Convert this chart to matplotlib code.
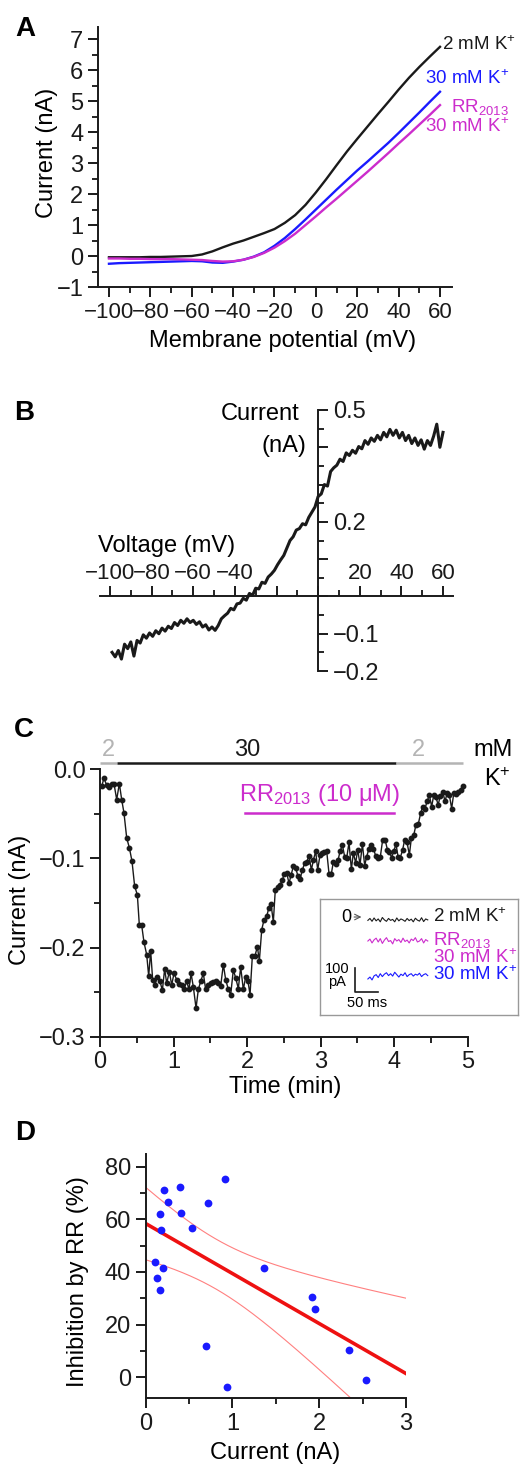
import numpy as np
import matplotlib
matplotlib.use('Agg')
import matplotlib.pyplot as plt
from matplotlib.ticker import MultipleLocator, FixedLocator, FixedFormatter, FuncFormatter

plt.rcParams['font.family'] = ['Liberation Sans', 'DejaVu Sans']
plt.rcParams['mathtext.fontset'] = 'custom'
plt.rcParams['mathtext.rm'] = 'Liberation Sans'
plt.rcParams['mathtext.default'] = 'regular'
plt.rcParams['axes.linewidth'] = 1.4
plt.rcParams['axes.unicode_minus'] = True

### DATA
# A: I-V curves (mV, nA)
a_voltage = [-100, -95, -90, -85, -80, -75, -70, -65, -60, -55, -50, -45, -40, -35, -30,
             -25, -20, -15, -10, -5, 0, 5, 10, 15, 20, 25, 30, 35, 40, 45, 50, 55, 60]
a_2mM = [-0.04, -0.04, -0.04, -0.04, -0.03, -0.03, -0.02, -0.01, 0.0, 0.05, 0.15, 0.28, 0.40, 0.50, 0.62,
         0.74, 0.87, 1.07, 1.32, 1.65, 2.05, 2.48, 2.93, 3.37, 3.78, 4.18, 4.58, 4.97, 5.37, 5.75, 6.10, 6.43, 6.75]
a_30mM = [-0.25, -0.23, -0.22, -0.21, -0.20, -0.19, -0.18, -0.17, -0.16, -0.17, -0.21, -0.22, -0.18, -0.12, -0.02,
          0.12, 0.33, 0.58, 0.87, 1.18, 1.50, 1.82, 2.14, 2.45, 2.76, 3.05, 3.35, 3.65, 3.97, 4.30, 4.63, 4.97, 5.30]
a_rr = [-0.08, -0.08, -0.09, -0.09, -0.10, -0.10, -0.10, -0.11, -0.12, -0.13, -0.16, -0.18, -0.17, -0.12, -0.03,
        0.10, 0.27, 0.48, 0.72, 1.00, 1.28, 1.57, 1.85, 2.14, 2.43, 2.72, 3.02, 3.32, 3.63, 3.93, 4.24, 4.55, 4.87]

# B: RR-sensitive current, ramp -99 .. 60 mV
b_current = [-0.150, -0.162, -0.145, -0.168, -0.128, -0.140, -0.122, -0.160, -0.118, -0.125,
             -0.103, -0.112, -0.098, -0.107, -0.092, -0.100, -0.085, -0.093, -0.080, -0.086,
             -0.070, -0.078, -0.064, -0.072, -0.060, -0.070, -0.064, -0.075, -0.068, -0.082,
             -0.076, -0.090, -0.082, -0.091, -0.078, -0.060, -0.052, -0.045, -0.032, -0.036,
             -0.020, -0.018, -0.005, -0.010, 0.008, 0.003, 0.022, 0.020, 0.038, 0.035,
             0.052, 0.060, 0.070, 0.085, 0.098, 0.110, 0.130, 0.150, 0.160, 0.178,
             0.182, 0.195, 0.192, 0.212, 0.226, 0.240, 0.268, 0.275, 0.300, 0.296,
             0.335, 0.345, 0.352, 0.368, 0.362, 0.385, 0.378, 0.392, 0.384, 0.402,
             0.396, 0.418, 0.408, 0.425, 0.416, 0.432, 0.420, 0.440, 0.428, 0.448,
             0.432, 0.446, 0.425, 0.440, 0.418, 0.432, 0.410, 0.425, 0.405, 0.420,
             0.395, 0.418, 0.405, 0.430, 0.462, 0.400, 0.440]
b_voltage = np.linspace(-99, 60, len(b_current))

# C: time course (min, nA)
c_time = [0.023, 0.054, 0.091, 0.122, 0.159, 0.190, 0.227, 0.263, 0.295, 0.326,
          0.363, 0.399, 0.435, 0.471, 0.508, 0.535, 0.567, 0.598, 0.635, 0.662,
          0.689, 0.716, 0.748, 0.780, 0.816, 0.848, 0.879, 0.907, 0.943, 0.975,
          1.006, 1.043, 1.074, 1.111, 1.142, 1.179, 1.210, 1.238, 1.269, 1.306,
          1.337, 1.369, 1.405, 1.437, 1.473, 1.505, 1.541, 1.578, 1.609, 1.641,
          1.677, 1.709, 1.745, 1.777, 1.813, 1.845, 1.881, 1.913, 1.949, 1.981,
          2.013, 2.040, 2.072, 2.108, 2.140, 2.167, 2.199, 2.230, 2.267, 2.294,
          2.325, 2.357, 2.384, 2.416, 2.448, 2.480, 2.507, 2.539, 2.570, 2.597,
          2.629, 2.661, 2.693, 2.720, 2.752, 2.783, 2.811, 2.842, 2.874, 2.901,
          2.933, 2.960, 2.992, 3.019, 3.051, 3.083, 3.114, 3.146, 3.173, 3.205,
          3.237, 3.264, 3.296, 3.327, 3.354, 3.386, 3.418, 3.445, 3.477, 3.504,
          3.536, 3.568, 3.599, 3.626, 3.658, 3.685, 3.717, 3.749, 3.781, 3.812,
          3.844, 3.876, 3.908, 3.935, 3.966, 3.994, 4.025, 4.053, 4.084, 4.116,
          4.143, 4.175, 4.207, 4.234, 4.266, 4.297, 4.329, 4.361, 4.388, 4.420,
          4.447, 4.479, 4.510, 4.538, 4.569, 4.597, 4.628, 4.660, 4.692, 4.719,
          4.751, 4.782, 4.810, 4.841, 4.873, 4.905, 4.932]
c_current = [-0.019, -0.010, -0.018, -0.020, -0.016, -0.016, -0.034, -0.016, -0.034, -0.049,
             -0.077, -0.088, -0.103, -0.131, -0.141, -0.175, -0.175, -0.194, -0.208, -0.232,
             -0.204, -0.236, -0.242, -0.233, -0.238, -0.248, -0.224, -0.240, -0.227, -0.242,
             -0.229, -0.236, -0.241, -0.242, -0.247, -0.238, -0.247, -0.229, -0.244, -0.268,
             -0.247, -0.238, -0.229, -0.247, -0.242, -0.240, -0.239, -0.238, -0.240, -0.243,
             -0.219, -0.236, -0.247, -0.253, -0.225, -0.234, -0.246, -0.222, -0.247, -0.233,
             -0.238, -0.253, -0.209, -0.209, -0.199, -0.215, -0.180, -0.169, -0.165, -0.156,
             -0.151, -0.171, -0.135, -0.132, -0.130, -0.124, -0.117, -0.116, -0.128, -0.119,
             -0.109, -0.111, -0.120, -0.123, -0.113, -0.105, -0.104, -0.097, -0.113, -0.102,
             -0.092, -0.113, -0.096, -0.094, -0.093, -0.092, -0.117, -0.117, -0.104, -0.106,
             -0.102, -0.092, -0.085, -0.098, -0.100, -0.082, -0.112, -0.094, -0.105, -0.090,
             -0.107, -0.084, -0.108, -0.098, -0.089, -0.085, -0.089, -0.097, -0.099, -0.098,
             -0.079, -0.079, -0.090, -0.093, -0.099, -0.092, -0.084, -0.098, -0.099, -0.090,
             -0.079, -0.082, -0.096, -0.077, -0.074, -0.062, -0.061, -0.049, -0.042, -0.044,
             -0.036, -0.029, -0.042, -0.029, -0.031, -0.040, -0.030, -0.025, -0.036, -0.027,
             -0.029, -0.044, -0.027, -0.028, -0.025, -0.023, -0.019]
# solution periods (start, end, label) and RR application
solution_periods = [(0.0, 0.23, '2'), (0.23, 4.03, '30'), (4.03, 4.94, '2')]
rr_period = (1.97, 4.0)

# C inset: example traces (pA), 0-130 ms
inset_black = [-14, -6, -18, -4, -16, -8, -20, -2, -12, -18, -6, -14, -10, -20, -4,
               -16, -8, -12, -18, -6, -15, -9, -20, -5, -13, -17, -3, -19, -8, -12]
inset_magenta = [-100, -92, -108, -95, -88, -104, -90, -110, -96, -86, -102, -98, -112, -90, -100,
                 -94, -106, -88, -102, -96, -108, -92, -98, -86, -104, -100, -90, -108, -94, -100]
inset_blue = [-258, -250, -262, -245, -240, -252, -236, -248, -238, -232, -244, -236, -246, -230, -240,
              -250, -238, -244, -232, -248, -240, -236, -246, -238, -242, -234, -248, -240, -236, -244]
inset_t = np.linspace(0, 130, len(inset_black))

# D: inhibition vs current
d_current = [0.108, 0.134, 0.169, 0.165, 0.180, 0.200, 0.211, 0.261, 0.400, 0.411,
             0.538, 0.718, 0.914, 0.699, 0.934, 1.364, 1.921, 1.952, 2.343, 2.543]
d_inhib = [43.7, 37.8, 33.2, 62.0, 55.9, 41.6, 71.0, 66.7, 72.3, 62.5,
           56.8, 66.2, 75.4, 11.9, -3.7, 41.4, 30.5, 26.1, 10.4, -1.1]

BLACK = '#1a1a1a'
BLUE = '#1a1aff'
MAGENTA = '#cc2ccc'
GRAY = '#b4b4b4'
FS = 17
W, H = 520, 1466

fig = plt.figure(figsize=(W / 100, H / 100), dpi=100)


def px_axes(x0, y0, x1, y1):
    return fig.add_axes([x0 / W, 1 - y1 / H, (x1 - x0) / W, (y1 - y0) / H])


def style(ax):
    ax.tick_params(which='major', direction='out', length=7, width=1.4, labelsize=FS, colors=BLACK)
    ax.tick_params(which='minor', direction='out', length=4, width=1.2)
    for s in ax.spines.values():
        s.set_color(BLACK)


def letter(x, y, s):
    fig.text(x / W, 1 - y / H, s, fontsize=20, fontweight='bold', ha='center', va='center')


minus_fmt = FuncFormatter(lambda v, p: ('%.1f' % v).replace('-', '\u2212'))

######## A ########
axA = px_axes(98, 27, 452, 287)
axA.plot(a_voltage, a_2mM, color=BLACK, lw=1.7)
axA.plot(a_voltage, a_30mM, color=BLUE, lw=1.7)
axA.plot(a_voltage, a_rr, color=MAGENTA, lw=1.7)
axA.set_xlim(-105.3, 65.8)
axA.set_ylim(-1, 7.39)
axA.spines['top'].set_visible(False)
axA.spines['right'].set_visible(False)
axA.xaxis.set_major_locator(MultipleLocator(20))
axA.xaxis.set_minor_locator(MultipleLocator(10))
axA.yaxis.set_major_locator(MultipleLocator(1))
axA.yaxis.set_minor_locator(MultipleLocator(0.5))
style(axA)
axA.tick_params(axis='x', labelsize=16)
axA.set_ylabel('Current (nA)', fontsize=FS, va='center')
axA.yaxis.set_label_coords(-0.144, 0.515)
axA.set_xlabel('Membrane potential (mV)', fontsize=FS, va='center')
axA.xaxis.set_label_coords(0.52, -0.208)
axA.text(61.2, 6.83, '2 mM K$^{+}$', color=BLACK, fontsize=13.5, ha='left', va='center', clip_on=False)
axA.text(93.5, 5.71, '30 mM K$^{+}$', color=BLUE, fontsize=13.5, ha='right', va='center', clip_on=False)
axA.text(93.5, 4.81, 'RR$_{2013}$', color=MAGENTA, fontsize=13.5, ha='right', va='center', clip_on=False)
axA.text(93.5, 4.16, '30 mM K$^{+}$', color=MAGENTA, fontsize=13.5, ha='right', va='center', clip_on=False)
letter(25, 29, 'A')

######## B ########
axB = px_axes(100, 410, 453, 671)
axB.plot(b_voltage, b_current, color=BLACK, lw=2.2)
axB.set_xlim(-104.8, 64.8)
axB.set_ylim(-0.2, 0.5)
axB.spines['left'].set_visible(False)
axB.spines['bottom'].set_visible(False)
axB.spines['right'].set_position(('data', 0))
axB.spines['top'].set_position(('data', 0))
axB.yaxis.tick_right()
axB.xaxis.tick_top()
bx_ticks = [-100, -80, -60, -40, -20, 0, 20, 40, 60]
bx_labels = ['\u2212100', '\u221280', '\u221260', '\u221240', '', '', '20', '40', '60']
axB.xaxis.set_major_locator(FixedLocator(bx_ticks))
axB.xaxis.set_major_formatter(FixedFormatter(bx_labels))
axB.xaxis.set_minor_locator(MultipleLocator(10))
by_ticks = [-0.2, -0.1, 0.0, 0.1, 0.2, 0.3, 0.4, 0.5]
by_labels = ['\u22120.2', '\u22120.1', '', '', '0.2', '', '', '0.5']
axB.yaxis.set_major_locator(FixedLocator(by_ticks))
axB.yaxis.set_major_formatter(FixedFormatter(by_labels))
axB.yaxis.set_minor_locator(MultipleLocator(0.05))
style(axB)
axB.tick_params(axis='x', which='both', pad=2, labelsize=16)
axB.text(-8.8, 0.489, 'Current', fontsize=FS, ha='right', va='center')
axB.text(-5.5, 0.404, '(nA)', fontsize=FS, ha='right', va='center')
axB.text(-72.6, 0.134, 'Voltage (mV)', fontsize=FS, ha='center', va='center')
letter(24, 413, 'B')

######## C ########
axC = px_axes(100, 769.3, 467.7, 1036.7)
axC.plot(c_time, c_current, color=BLACK, lw=1.0, marker='o', ms=3.2)
axC.set_xlim(0, 5)
axC.set_ylim(-0.3, 0.0)
axC.spines['top'].set_visible(False)
axC.spines['right'].set_visible(False)
axC.xaxis.set_major_locator(MultipleLocator(1))
axC.xaxis.set_minor_locator(MultipleLocator(0.5))
axC.yaxis.set_major_locator(MultipleLocator(0.1))
axC.yaxis.set_minor_locator(MultipleLocator(0.05))
axC.yaxis.set_major_formatter(minus_fmt)
style(axC)
axC.set_ylabel('Current (nA)', fontsize=FS, va='center')
axC.yaxis.set_label_coords(-0.2176, 0.511)
axC.set_xlabel('Time (min)', fontsize=FS, va='center')
axC.xaxis.set_label_coords(0.503, -0.188)
for t0, t1, lab in solution_periods:
    col = BLACK if lab == '30' else GRAY
    axC.plot([t0, t1], [0.007, 0.007], color=col, lw=1.8, clip_on=False, solid_capstyle='butt')
    xc = 2.0 if lab == '30' else (0.11 if t0 < 0.1 else 4.33)
    axC.text(xc, 0.0216, lab, color=col, fontsize=FS, ha='center', va='center', clip_on=False)
axC.text(5.35, 0.0216, 'mM', fontsize=FS, ha='center', va='center', clip_on=False)
axC.text(5.40, -0.0118, 'K$^{+}$', fontsize=FS, ha='center', va='center', clip_on=False)
axC.plot(list(rr_period), [-0.049, -0.049], color=MAGENTA, lw=1.8)
axC.text(2.99, -0.029, 'RR$_{2013}$ (10 \u03bcM)', color=MAGENTA, fontsize=FS, ha='center', va='center')
letter(24, 730, 'C')

# inset
axI = px_axes(320, 899, 518, 1015)
axI.set_xlim(-104, 326)
axI.set_ylim(-408, 75)
axI.set_xticks([])
axI.set_yticks([])
for s in axI.spines.values():
    s.set_color('#999999')
    s.set_linewidth(1.0)
axI.plot(inset_t, inset_black, color=BLACK, lw=0.8)
axI.plot(inset_t, inset_magenta, color=MAGENTA, lw=0.8)
axI.plot(inset_t, inset_blue, color=BLUE, lw=0.8)
axI.text(141, 0, '2 mM K$^{+}$', color=BLACK, fontsize=13.5, ha='left', va='center')
axI.text(141, -96, 'RR$_{2013}$', color=MAGENTA, fontsize=13.5, ha='left', va='center')
axI.text(141, -171, '30 mM K$^{+}$', color=MAGENTA, fontsize=13.5, ha='left', va='center')
axI.text(141, -242, '30 mM K$^{+}$', color=BLUE, fontsize=13.5, ha='left', va='center')
axI.text(-46, 0, '0', fontsize=13, ha='center', va='center')
axI.annotate('', xy=(-8, 0), xytext=(-36, 0),
             arrowprops=dict(arrowstyle='->', color='#555555', lw=0.8))
axI.plot([-28, -28, 22], [-212, -312, -312], color=BLACK, lw=1.2)
axI.text(-67, -242, '100\npA', fontsize=10.5, ha='center', va='center', linespacing=0.9)
axI.text(-2, -358, '50 ms', fontsize=10.5, ha='center', va='center')

######## D ########
axD = px_axes(145.7, 1154, 406, 1398.3)
axD.set_xlim(0, 3)
axD.set_ylim(-8, 84.8)
slope, intercept = np.polyfit(d_current, d_inhib, 1)
xs = np.linspace(0, 3, 200)
fit = intercept + slope * xs
xd = np.array(d_current)
yd = np.array(d_inhib)
resid = yd - (intercept + slope * xd)
s_err = np.sqrt(np.sum(resid ** 2) / (len(xd) - 2))
sxx = np.sum((xd - xd.mean()) ** 2)
half = 2.101 * s_err * np.sqrt(1 / len(xd) + (xs - xd.mean()) ** 2 / sxx)
axD.plot(xs, fit + half, color='#ff8080', lw=0.8)
axD.plot(xs, fit - half, color='#ff8080', lw=0.8)
axD.plot(xs, fit, color='#ee1111', lw=2.6)
axD.plot(d_current, d_inhib, 'o', color=BLUE, ms=5.6, mec='none', clip_on=False, zorder=5)
axD.spines['top'].set_visible(False)
axD.spines['right'].set_visible(False)
axD.xaxis.set_major_locator(MultipleLocator(1))
axD.xaxis.set_minor_locator(MultipleLocator(0.5))
axD.yaxis.set_major_locator(MultipleLocator(20))
axD.yaxis.set_minor_locator(MultipleLocator(10))
style(axD)
axD.set_ylabel('Inhibition by RR (%)', fontsize=FS, va='center')
axD.yaxis.set_label_coords(-0.26, 0.476)
axD.set_xlabel('Current (nA)', fontsize=FS, va='center')
axD.xaxis.set_label_coords(0.497, -0.224)
letter(25, 1133, 'D')

fig.savefig('out.png', dpi=100)
